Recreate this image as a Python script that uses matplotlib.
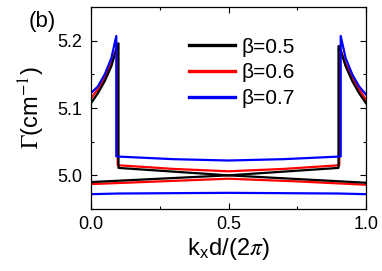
import matplotlib
matplotlib.use("Agg")
import matplotlib.pyplot as plt
import numpy as np
from matplotlib.ticker import MultipleLocator

plt.rcParams['font.family'] = ['Liberation Sans', 'DejaVu Sans']
plt.rcParams['mathtext.fontset'] = 'stix'

# ---- data ----
# beta = 0.5 (black): two bands that cross at k=0.5
b5_A_x = [0.0, 0.5, 0.9, 0.9, 0.908, 0.926, 0.95, 0.975, 1.0]
b5_A_y = [4.990, 5.0, 5.011, 5.192, 5.185, 5.162, 5.140, 5.122, 5.107]
b5_B_x = [0.0, 0.025, 0.05, 0.074, 0.092, 0.1, 0.1, 0.5, 1.0]
b5_B_y = [5.107, 5.122, 5.140, 5.162, 5.187, 5.196, 5.011, 5.0, 4.989]

# beta = 0.6 (red)
b6_up_x = [0.0, 0.025, 0.05, 0.074, 0.092, 0.097, 0.097, 0.3, 0.5, 0.7,
           0.903, 0.903, 0.908, 0.926, 0.95, 0.975, 1.0]
b6_up_y = [5.114, 5.128, 5.145, 5.166, 5.188, 5.195, 5.015, 5.0095, 5.006,
           5.0095, 5.015, 5.192, 5.186, 5.165, 5.145, 5.128, 5.112]
b6_lo_x = [0.0, 0.25, 0.5, 0.75, 1.0]
b6_lo_y = [4.987, 4.991, 4.995, 4.991, 4.986]

# beta = 0.7 (blue)
b7_up_x = [0.0, 0.025, 0.05, 0.074, 0.092, 0.092, 0.3, 0.5, 0.7, 0.908,
           0.908, 0.926, 0.95, 0.975, 1.0]
b7_up_y = [5.122, 5.132, 5.150, 5.174, 5.207, 5.028, 5.024, 5.022, 5.024,
           5.028, 5.207, 5.174, 5.150, 5.132, 5.120]
b7_lo_x = [0.0, 0.1, 0.5, 0.9, 1.0]
b7_lo_y = [4.972, 4.973, 4.974, 4.973, 4.972]

labels = ['β=0.5', 'β=0.6', 'β=0.7']
colors = ['#000000', '#ff0000', '#0000ff']

fig = plt.figure(figsize=(3.82, 2.71), dpi=100)
ax = fig.add_axes([91/382, 62/271, 275/382, 202/271])

lw = 1.6
r1, = ax.plot(b6_up_x, b6_up_y, color=colors[1], lw=lw)
ax.plot(b6_lo_x, b6_lo_y, color=colors[1], lw=lw)
k1, = ax.plot(b5_A_x, b5_A_y, color=colors[0], lw=lw)
ax.plot(b5_B_x, b5_B_y, color=colors[0], lw=lw)
u1, = ax.plot(b7_up_x, b7_up_y, color=colors[2], lw=lw)
ax.plot(b7_lo_x, b7_lo_y, color=colors[2], lw=lw)

ax.set_xlim(0, 1.0)
ax.set_ylim(4.95, 5.25)
ax.xaxis.set_minor_locator(MultipleLocator(0.25))
ax.yaxis.set_minor_locator(MultipleLocator(0.05))
ax.set_xticks([0.0, 0.5, 1.0])
ax.set_xticklabels(['0.0', '0.5', '1.0'])
ax.set_yticks([5.0, 5.1, 5.2])
ax.set_yticklabels(['5.0', '5.1', '5.2'])
ax.tick_params(which='both', direction='in', top=True, right=True, width=0.8)
ax.tick_params(which='major', length=4, labelsize=13)
ax.tick_params(axis='x', which='major', pad=5)
ax.tick_params(axis='y', which='major', pad=6)
ax.tick_params(which='minor', length=2)
for s in ax.spines.values():
    s.set_linewidth(0.9)

ax.set_xlabel(r'k$_\mathregular{x}$d/(2$\pi$)', fontsize=17, labelpad=2)
ax.set_ylabel(r'$\Gamma$(cm$^{-1}$)', fontsize=17, labelpad=8)

leg = ax.legend([k1, r1, u1], labels, loc='upper left',
                bbox_to_anchor=(0.325, 0.89), frameon=False, fontsize=15,
                handlelength=2.2, handletextpad=0.35, labelspacing=0.32,
                borderaxespad=0)
for h in leg.get_lines():
    h.set_linewidth(2.4)

fig.text(29/382, 1 - 22/271, '(b)', fontsize=16, va='center', ha='left')

fig.savefig('out.png', dpi=100)
